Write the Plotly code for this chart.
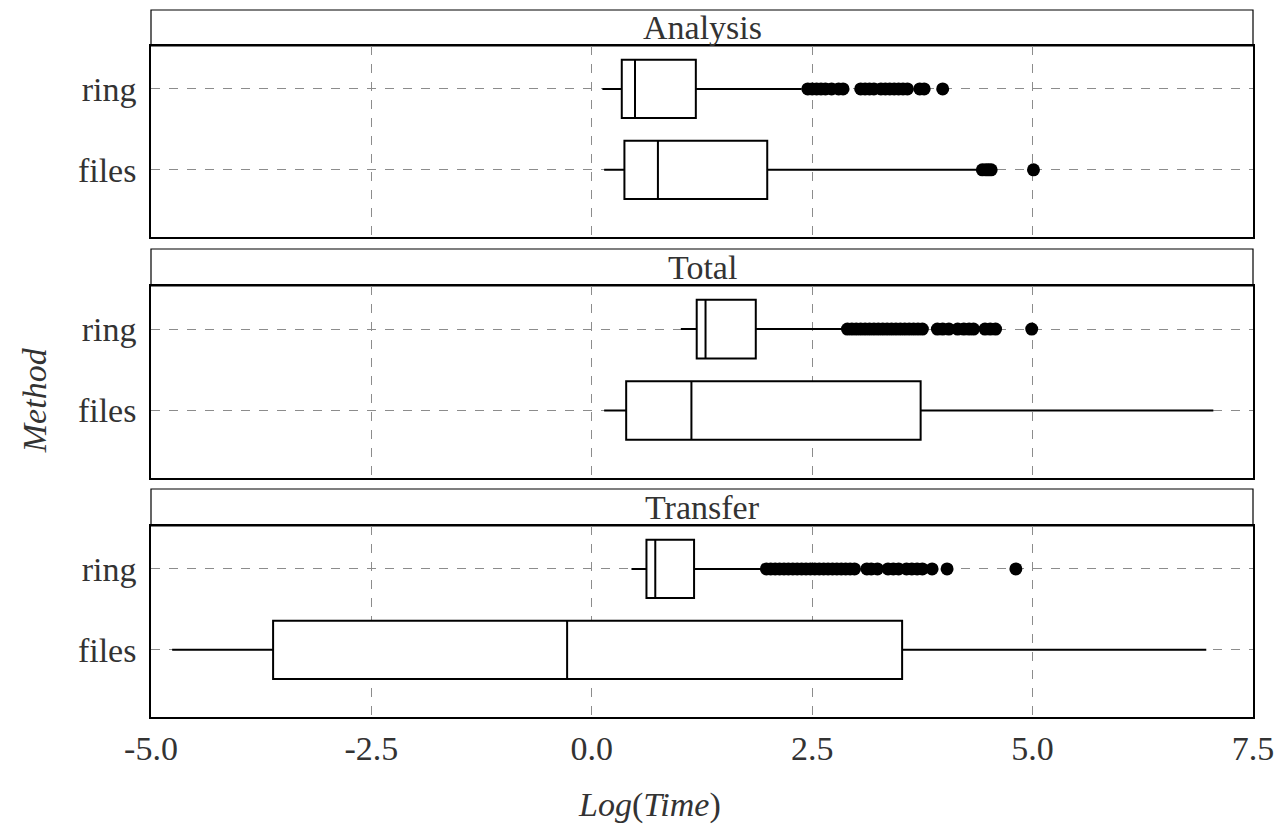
import plotly.graph_objects as go

# ---------------- data ----------------
panels = ["Analysis", "Total", "Transfer"]
methods = ["ring", "files"]

# box statistics per panel: [ring, files]
q1 = {"Analysis": [0.34, 0.37], "Total": [1.19, 0.39], "Transfer": [0.62, -3.615]}
median = {"Analysis": [0.49, 0.75], "Total": [1.29, 1.13], "Transfer": [0.72, -0.28]}
q3 = {"Analysis": [1.18, 1.99], "Total": [1.86, 3.73], "Transfer": [1.16, 3.52]}
lowerfence = {"Analysis": [0.12, 0.14], "Total": [1.01, 0.14], "Transfer": [0.45, -4.76]}
upperfence = {"Analysis": [2.38, 4.40], "Total": [2.84, 7.05], "Transfer": [1.95, 6.97]}

# outliers
analysis_ring_out = [2.45, 2.5, 2.55, 2.6, 2.65, 2.72, 2.8, 2.85, 3.05, 3.1, 3.15, 3.2,
                     3.28, 3.33, 3.38, 3.43, 3.48, 3.53, 3.58, 3.72, 3.77, 3.98]
analysis_files_out = [4.43, 4.47, 4.5, 4.53, 5.01]
total_ring_out = [2.9, 2.95, 3.0, 3.05, 3.1, 3.15, 3.2, 3.25, 3.3, 3.35, 3.4, 3.45, 3.5,
                  3.55, 3.6, 3.65, 3.7, 3.75, 3.92, 3.98, 4.05, 4.15, 4.22, 4.28, 4.33,
                  4.46, 4.52, 4.58, 4.99]
total_files_out = []
transfer_ring_out = [1.98, 2.03, 2.08, 2.13, 2.18, 2.23, 2.28, 2.33, 2.38, 2.43, 2.48, 2.53,
                     2.58, 2.63, 2.68, 2.73, 2.78, 2.83, 2.88, 2.93, 2.98, 3.12, 3.17, 3.24,
                     3.36, 3.42, 3.48, 3.57, 3.63, 3.69, 3.75, 3.86, 4.03, 4.81]
transfer_files_out = []

outliers = {
    "Analysis": [analysis_ring_out, analysis_files_out],
    "Total": [total_ring_out, total_files_out],
    "Transfer": [transfer_ring_out, transfer_files_out],
}

x_ticks = [-5.0, -2.5, 0.0, 2.5, 5.0, 7.5]
x_tick_labels = ["-5.0", "-2.5", "0.0", "2.5", "5.0", "7.5"]

# ---------------- layout geometry ----------------
W, H = 1284, 833
ML, MR, MT, MB = 151, 29, 10, 116
PH = H - MT - MB

def fy(ypix):
    return (H - MB - ypix) / PH

panel_px = [(46, 237), (286, 478), (526, 717)]
strip_px = [(10, 46), (249, 286), (489, 526)]

FONT = "Liberation Serif"
TXT = "#333333"
FS = 34

fig = go.Figure()

for i, p in enumerate(panels):
    xa = "x" if i == 0 else f"x{i+1}"
    ya = "y" if i == 0 else f"y{i+1}"
    for j, m in enumerate(methods):
        fig.add_trace(go.Box(
            y=[m], q1=[q1[p][j]], median=[median[p][j]], q3=[q3[p][j]],
            lowerfence=[lowerfence[p][j]], upperfence=[upperfence[p][j]],
            orientation="h", fillcolor="white", whiskerwidth=0,
            line=dict(color="black", width=2), width=0.72,
            boxpoints=False, showlegend=False, hoverinfo="skip",
            xaxis=xa, yaxis=ya,
        ))
        if outliers[p][j]:
            fig.add_trace(go.Scatter(
                x=outliers[p][j], y=[m] * len(outliers[p][j]), mode="markers",
                marker=dict(color="black", size=13), showlegend=False,
                xaxis=xa, yaxis=ya, hoverinfo="skip",
            ))

shapes = []
annotations = []
for i, p in enumerate(panels):
    top, bot = panel_px[i]
    xk = "xaxis" if i == 0 else f"xaxis{i+1}"
    yk = "yaxis" if i == 0 else f"yaxis{i+1}"
    xa = "x" if i == 0 else f"x{i+1}"
    fig.layout[xk] = dict(
        domain=[0, 1], range=[-5, 7.5], anchor="y" if i == 0 else f"y{i+1}",
        tickvals=x_ticks, ticktext=x_tick_labels, showticklabels=(i == 2),
        showgrid=True, gridcolor="#8c8c8c", griddash="dash", gridwidth=1,
        zeroline=False, showline=True, linecolor="black", linewidth=1.5, mirror=True,
        ticks="", ticklabelstandoff=0,
        tickfont=dict(family=FONT, size=FS, color=TXT),
        matches=None if i == 0 else "x",
    )
    fig.layout[yk] = dict(
        domain=[fy(bot), fy(top)], anchor=xa, type="category",
        categoryorder="array", categoryarray=["files", "ring"],
        range=[-0.83, 1.53],
        showgrid=True, gridcolor="#8c8c8c", griddash="dash", gridwidth=1,
        zeroline=False, showline=True, linecolor="black", linewidth=1.5, mirror=True,
        ticks="", ticklabelstandoff=6,
        tickfont=dict(family=FONT, size=FS, color=TXT),
    )
    st, sb = strip_px[i]
    shapes.append(dict(type="rect", xref="paper", yref="paper", x0=0, x1=1,
                       y0=fy(sb), y1=fy(st), line=dict(color="black", width=1.2),
                       fillcolor="white", layer="below"))
    annotations.append(dict(text=p, xref="paper", yref="paper", x=0.5,
                            y=(fy(sb) + fy(st)) / 2, showarrow=False,
                            xanchor="center", yanchor="middle",
                            font=dict(family=FONT, size=FS, color=TXT)))

annotations.append(dict(text="<i>Log</i>(<i>Time</i>)", xref="paper", yref="paper",
                        x=(650 - ML) / (W - ML - MR), y=fy(805), showarrow=False,
                        xanchor="center", yanchor="middle",
                        font=dict(family=FONT, size=FS, color=TXT)))
annotations.append(dict(text="<i>Method</i>", xref="paper", yref="paper",
                        x=(35 - ML) / (W - ML - MR), y=fy(400), showarrow=False,
                        xanchor="center", yanchor="middle", textangle=-90,
                        font=dict(family=FONT, size=FS, color=TXT)))

fig.update_layout(
    width=W, height=H, margin=dict(l=ML, r=MR, t=MT, b=MB),
    paper_bgcolor="white", plot_bgcolor="white",
    shapes=shapes, annotations=annotations, showlegend=False,
)

fig.write_html("out.html", config={"displayModeBar": False},
               post_script="document.body.style.margin='0';document.body.style.padding='0';")
